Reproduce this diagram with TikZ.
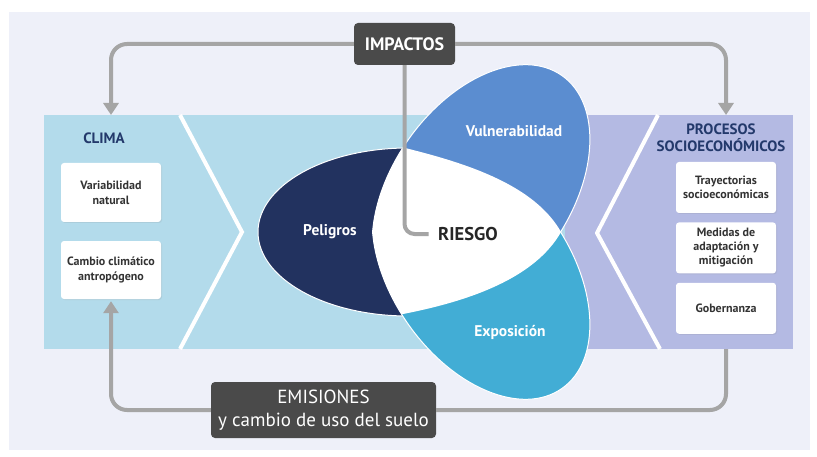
\documentclass[tikz,border=0pt]{standalone}
\usepackage{fontspec}
\setmainfont{PT Sans}
\usepackage{tikz}
\usetikzlibrary{positioning}
\usetikzlibrary{arrows.meta}
\usetikzlibrary{shadows}
\definecolor{fondo}{HTML}{EEF0F9}
\definecolor{climabg}{HTML}{B3DBEB}
\definecolor{procbg}{HTML}{B4BAE3}
\definecolor{peligcol}{HTML}{22325F}
\definecolor{vulncol}{HTML}{5B8DD0}
\definecolor{expocol}{HTML}{42ADD5}
\definecolor{boxgray}{HTML}{4A4A4A}
\definecolor{linkgray}{HTML}{A5A5A5}
\definecolor{titlenavy}{HTML}{23396B}
\definecolor{boxtext}{HTML}{333333}
\tikzset{infobox/.style={fill=white, rounded corners=3pt, minimum width=100pt,
align=center, text=boxtext, font=\bfseries\fontsize{12}{15}\selectfont,
drop shadow={shadow xshift=1pt, shadow yshift=-1pt, opacity=.15}},
darkbox/.style={fill=boxgray, rounded corners=4pt, text=white, align=center},
link/.style={draw=linkgray, line width=4pt, rounded corners=16pt},
heading/.style={text=titlenavy, font=\bfseries\fontsize{15}{16.5}\selectfont, align=center},
petallabel/.style={text=white, font=\bfseries\fontsize{15.5}{17}\selectfont}}

\begin{document}
\begin{tikzpicture}[x=1pt, y=1pt, chevron/.style={draw=white, line width=4pt},
  vuln/.style={rotate around={55:(481,265)}}, expo/.style={rotate around={-55:(481,183)}}]
\useasboundingbox (0,0) rectangle (817,456);
\fill[fondo] (9,6) rectangle (810,444);
\fill[climabg] (44,107) rectangle (565,341);
\fill[procbg] (565,107) rectangle (793,341);
\draw[chevron] (180,341) -- (242,224) -- (180,107);
\draw[chevron, line join=round] (658,341) -- (597,223) -- (660,107);

\filldraw[fill=peligcol, draw=white, line width=1pt] (408,224) ellipse [x radius=150, y radius=84];
\begin{scope}
  \clip (0,224) rectangle (817,456);
  \filldraw[vuln, fill=vulncol, draw=white, line width=1pt] (481,265) ellipse [x radius=141, y radius=89];
\end{scope}
\begin{scope}
  \clip (0,0) rectangle (817,224);
  \filldraw[expo, fill=expocol, draw=white, line width=1pt] (481,183) ellipse [x radius=141, y radius=89];
\end{scope}
\begin{scope}
  \clip (300,332) -- (405,308) .. controls (470,292) and (535,270) .. (561,224)
    .. controls (535,178) and (470,155) .. (403,142) -- (300,118) -- cycle;
  \begin{scope}
    \clip (0,224) rectangle (817,456);
    \fill[vuln, white] (481,265) ellipse [x radius=141, y radius=89];
  \end{scope}
  \begin{scope}
    \clip (0,0) rectangle (817,224);
    \fill[expo, white] (481,183) ellipse [x radius=141, y radius=89];
  \end{scope}
\end{scope}

\node[petallabel] (peligros) at (330,224) {Peligros};
\node[petallabel] (vulnerab) at (514,325) {Vulnerabilidad};
\node[petallabel] (exposic) at (510,124) {Exposición};
\node[text=black!85, font=\bfseries\fontsize{18.5}{20}\selectfont] (riesgo) at (468,222) {RIESGO};

\node[heading] (clima) at (104,318) {CLIMA};
\node[infobox, minimum height=59pt] (variab) at (111,263.5) {Variabilidad\\natural};
\node[infobox, minimum height=58pt] (cambio) at (111,186) {Cambio climático\\antropógeno};

\node[heading] (procesos) at (721,318) {PROCESOS\\SOCIOECONÓMICOS};
\node[infobox, minimum height=51pt, font=\bfseries\fontsize{12}{14}\selectfont] (trayect) at (726,268.5) {Trayectorias\\socioeconómicas};
\node[infobox, minimum height=51pt, font=\bfseries\fontsize{12}{14}\selectfont, below=9pt of trayect] (medidas) {Medidas de\\adaptación y\\mitigación};
\node[infobox, minimum height=51pt, below=9pt of medidas] (gobern) {Gobernanza};

\node[darkbox, minimum width=101pt, minimum height=42pt, font=\bfseries\fontsize{18}{20}\selectfont] (impactos) at (404.5,412) {IMPACTOS};
\node[darkbox, minimum width=225pt, minimum height=56pt, font=\fontsize{19}{23}\selectfont] (emisiones) at (323.5,46) {EMISIONES\\y cambio de uso del suelo};

\coordinate (climaIn) at (111,341);
\coordinate (procIn) at (726,341);
\coordinate (procOut) at (726,107);

\draw[link, -{Triangle[width=15pt,length=12pt]}] (impactos.west) -| (climaIn);
\draw[link, -{Triangle[width=15pt,length=12pt]}] (impactos.east) -| (procIn);
\draw[link, rounded corners=10pt, shorten >=6pt] (impactos.south) |- (riesgo.west);
\draw[link, -{Triangle[width=15pt,length=12pt]}, shorten >=2pt] (emisiones.west) -| (cambio.south);
\draw[link] (emisiones.east) -| (procOut);
\end{tikzpicture}
\end{document}
